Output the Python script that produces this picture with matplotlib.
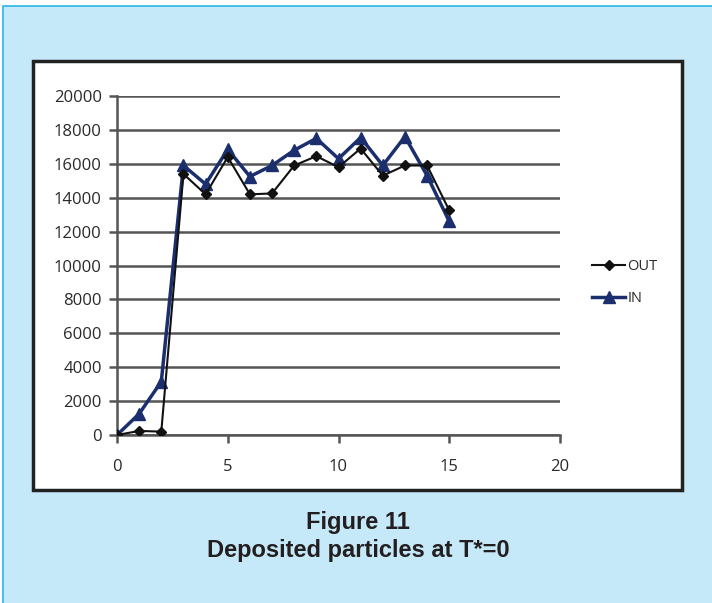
import matplotlib.pyplot as plt
from matplotlib.patches import Rectangle

steps = list(range(16))
out_vals = [0, 240, 200, 15400, 14200, 16400, 14200, 14250, 15900, 16450,
            15800, 16900, 15300, 15900, 15900, 13250]
in_vals = [0, 1250, 3150, 15900, 14800, 16850, 15250, 15900, 16800, 17500,
           16300, 17550, 15900, 17600, 15300, 12600]
x_ticks = [0, 5, 10, 15, 20]
y_ticks = list(range(0, 20001, 2000))

W, H = 712, 603
fig = plt.figure(figsize=(W / 100, H / 100), dpi=100)
fig.patch.set_facecolor("white")

# light blue panel and white chart box, positions in pixels
def px_rect(x0, y0, x1, y1, **kw):
    return Rectangle((x0 / W, 1 - y1 / H), (x1 - x0) / W, (y1 - y0) / H,
                     transform=fig.transFigure, zorder=-5, **kw)

fig.patches.append(px_rect(3, 6, 714, 605, facecolor="#c6e9f9",
                           edgecolor="#2bb5e6", linewidth=1.2))
fig.patches.append(px_rect(33, 61, 682, 490, facecolor="white",
                           edgecolor="#222222", linewidth=2.5))

ax = fig.add_axes([117 / W, 1 - 435 / H, (560 - 117) / W, (435 - 96) / H])
ax.set_facecolor("none")
ax.set_zorder(2)

ax.plot(steps, out_vals, color="#111111", linewidth=1.5, marker="D",
        markersize=5, label="OUT", zorder=4)
ax.plot(steps, in_vals, color="#1b2f6e", linewidth=2.5, marker="^",
        markersize=8, label="IN", zorder=3)

ax.set_xlim(0, 20)
ax.set_ylim(0, 20000)
ax.set_xticks(x_ticks)
ax.set_yticks(y_ticks)
ax.set_yticklabels([str(v) for v in y_ticks])
ax.grid(axis="y", color="#555555", linewidth=1.8)
ax.set_axisbelow(True)

for side in ["top", "right"]:
    ax.spines[side].set_visible(False)
for side in ["left", "bottom"]:
    ax.spines[side].set_color("#555555")
    ax.spines[side].set_linewidth(1.8)

ax.tick_params(axis="both", colors="#555555", width=1.8, length=6,
               labelcolor="#2a2a2a", labelsize=12)
ax.tick_params(axis="y", pad=5)
ax.tick_params(axis="x", pad=11)
for lab in ax.get_xticklabels() + ax.get_yticklabels():
    lab.set_fontfamily("Open Sans")

leg = ax.legend(loc="center left", bbox_to_anchor=(1.042, 0.45), frameon=False,
                handlelength=2.3, handletextpad=0.15, labelspacing=1.15,
                prop={"family": "Open Sans", "size": 10.5})
for t in leg.get_texts():
    t.set_color("#2a2a2a")

fig.text(358 / W, 1 - 523 / H, "Figure 11", ha="center", va="center",
         fontsize=17, fontweight="bold", family="Liberation Sans", color="#231f20")
fig.text(358 / W, 1 - 551 / H, "Deposited particles at T*=0", ha="center",
         va="center", fontsize=17, fontweight="bold", family="Liberation Sans",
         color="#231f20")

fig.savefig("out.png", dpi=100)
